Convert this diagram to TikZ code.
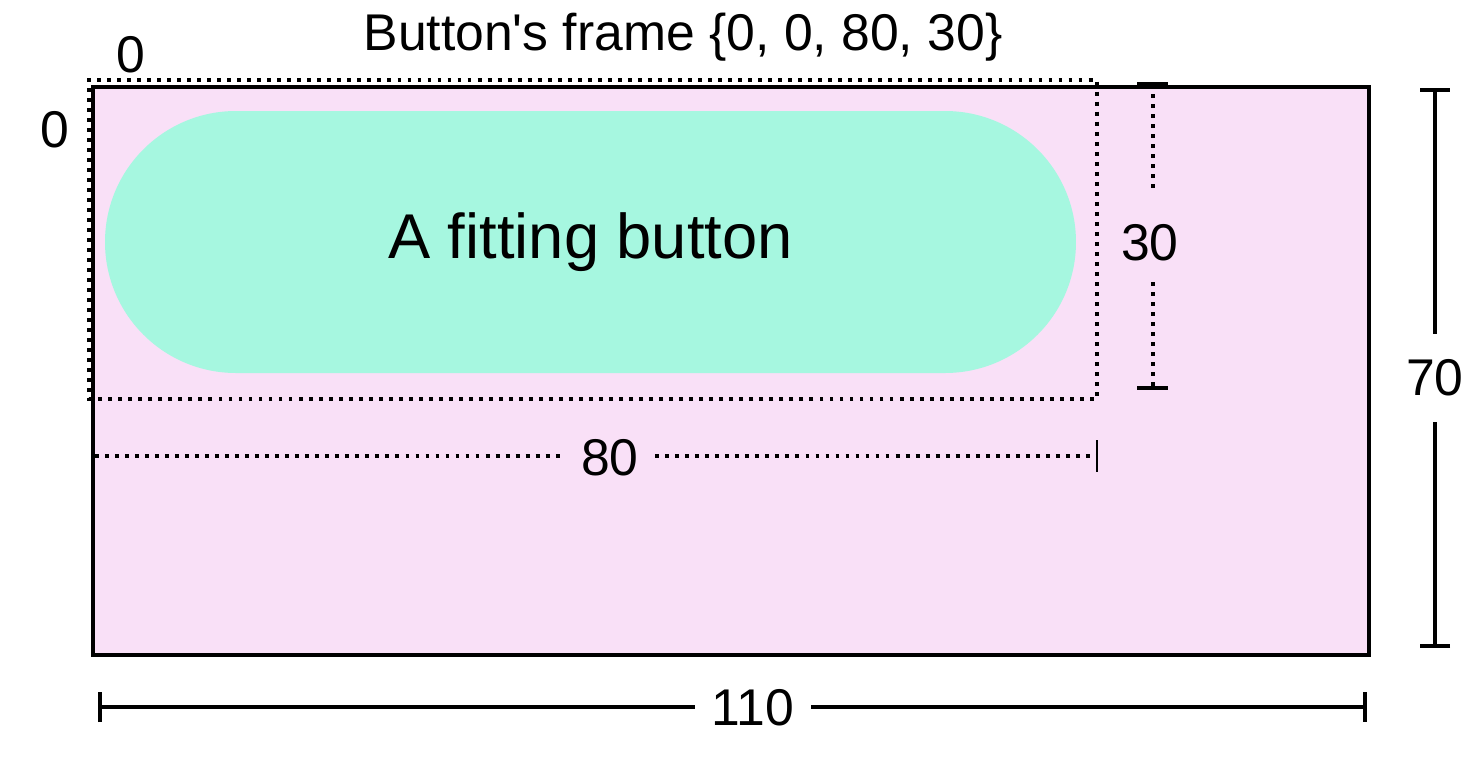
\documentclass[tikz,border=0pt]{standalone}
\usepackage{fontspec}
\setmainfont{Liberation Sans}
\newfontfamily\plainsans{Liberation Sans}
\usetikzlibrary{arrows.meta,positioning}
\definecolor{blush}{RGB}{249,224,247}
\definecolor{mint}{RGB}{166,247,224}
\tikzset{
  lbl/.style={font=\fontsize{14.7}{17}\selectfont,inner sep=1pt},
  gap/.style={lbl,inner sep=4.5pt},
  dots/.style={line width=1.1pt,dash pattern=on 1.1pt off 1.75pt},
  dim/.style={line width=1pt},
  bar/.style={line width=1pt,{Bar[width=3mm,line width=1pt]}-},
}
\begin{document}
\begin{tikzpicture}[x=0.1mm,y=-0.1mm]
  \useasboundingbox (0,0) rectangle (1484,758);
  % superview
  \draw[fill=blush,line width=0.9pt] (93,87) rectangle (1369,655);
  % button
  \node[fill=mint,rounded corners=13.1mm,minimum width=97.1mm,minimum height=26.2mm,
    font=\fontsize{18}{21}\selectfont] (btn) at (590.5,242) {A fitting button};
  % button frame
  \draw[dots] (87,80) -- (1097,80) -- (1097,399) -- (89,399) -- (89,80);
  \node[lbl,font=\plainsans\fontsize{14.7}{17}\selectfont] (title) at (683,37) {Button's frame \{0, 0, 80, 30\}};
  \node[lbl] (x0) at (131,55) {0};
  \node[lbl] (y0) at (55,130) {0};
  % 30
  \node[lbl] (h30) at (1150,243) {30};
  \coordinate (h30t) at (1153,84);
  \coordinate (h30b) at (1153,388);
  \draw[dots] (h30t) -- (1153,190);
  \draw[dots] (1153,282) -- (h30b);
  \draw[line width=1pt] (1137,84) -- (1168,84);
  \draw[line width=1pt] (1137,388) -- (1168,388);
  % 80
  \node[gap] (w80) at (610,458) {80};
  \coordinate (w80l) at (95,456);
  \coordinate (w80r) at (1097,456);
  \draw[dots] (w80l) -- (w80l -| w80.west);
  \draw[dots] (w80r -| w80.east) -- (w80r);
  \draw[line width=0.8pt] (1097,440) -- (1097,472);
  % 70
  \node[lbl,inner ysep=7pt] (h70) at (1435,378) {70};
  \coordinate (h70t) at (1435,88);
  \coordinate (h70b) at (1435,648);
  \draw[bar] (h70t) -- (h70.north);
  \draw[bar] (h70b) -- (h70.south);
  % 110
  \node[gap] (w110) at (753,708) {110};
  \coordinate (w110l) at (98,707);
  \coordinate (w110r) at (1367,707);
  \draw[bar] (w110l) -- (w110l -| w110.west);
  \draw[bar] (w110r) -- (w110r -| w110.east);
\end{tikzpicture}
\end{document}
